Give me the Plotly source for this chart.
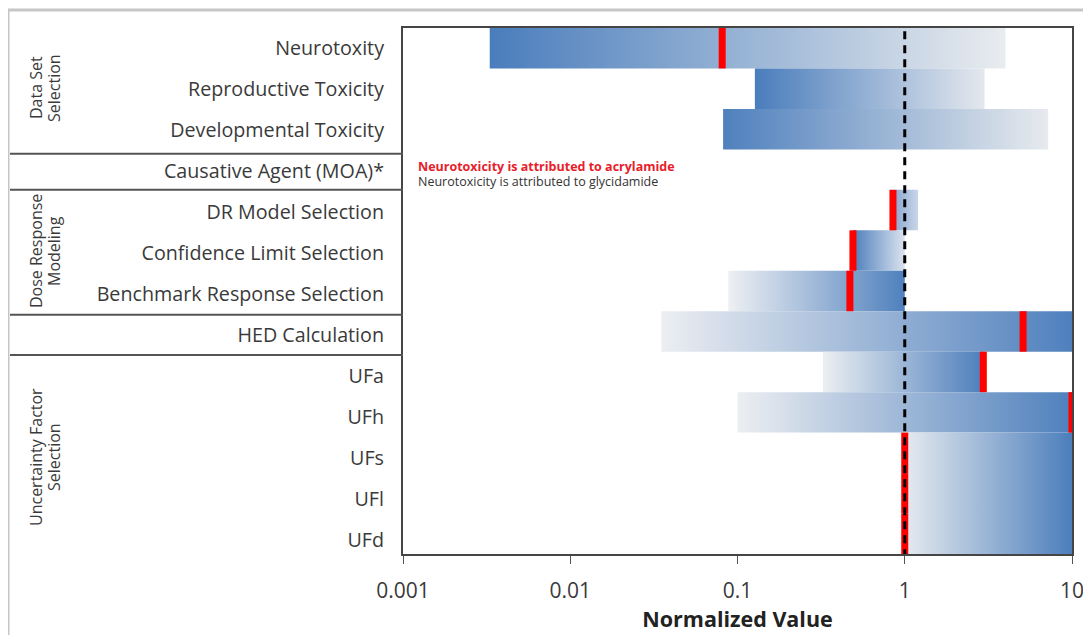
import plotly.graph_objects as go

# ---------------- data ----------------
categories = ["Neurotoxity", "Reproductive Toxicity", "Developmental Toxicity",
              "Causative Agent (MOA)*", "DR Model Selection", "Confidence Limit Selection",
              "Benchmark Response Selection", "HED Calculation", "UFa", "UFh", "UFs", "UFl", "UFd"]
range_low = [0.0033, 0.127, 0.082, None, 0.82, 0.49, 0.088, 0.035, 0.324, 0.1, 1.0, 1.0, 1.0]
range_high = [4.0, 3.0, 7.2, None, 1.2, 1.0, 1.0, 10.0, 2.95, 10.0, 10.0, 10.0, 10.0]
point_value = [0.081, None, None, None, 0.85, 0.49, 0.47, 5.1, 2.95, 10.0, 1.0, 1.0, 1.0]
reference_value = 1.0
x_tick_vals = [0.001, 0.01, 0.1, 1, 10]
x_tick_text = ["0.001", "0.01", "0.1", "1", "10"]
groups = ["Data Set<br>Selection", "Dose Response<br>Modeling", "Uncertainty Factor<br>Selection"]
note_acrylamide = "Neurotoxicity is attributed to acrylamide"
note_glycidamide = "Neurotoxicity is attributed to glycidamide"

# ---------------- styles ----------------
DARK = "#4a7dbc"
grad_colors = [
    (DARK, "#e9ecef"), (DARK, "#e4e8ee"), ("#4f80bd", "#e7eaee"), None,
    ("#819fcc", "#c9d6e8"), ("#4d7ebc", "#dbe3ee"), ("#eef0f3", "#4f80bd"),
    ("#eceef2", "#4f80bd"), ("#eceff2", "#4e7fbc"), ("#eceef1", "#4f80bd"),
    ("#e6eaef", "#4c7ebc"), ("#e6eaef", "#4c7ebc"), ("#e6eaef", "#4c7ebc"),
]
TXT = "#3a3a3a"
FONT = "Open Sans"
W, H = 669, 526  # plot area size in px

fig = go.Figure()

# gradient bars (consecutive rows with identical ranges are merged into one band)
n = len(categories)
i = 0
while i < n:
    lo, hi = range_low[i], range_high[i]
    if lo is None:
        i += 1
        continue
    j = i
    while j + 1 < n and range_low[j + 1] == lo and range_high[j + 1] == hi and grad_colors[j + 1] == grad_colors[i]:
        j += 1
    c0, c1 = grad_colors[i]
    fig.add_trace(go.Scatter(
        x=[lo, hi, hi, lo, lo],
        y=[i - 0.5, i - 0.5, j + 0.5, j + 0.5, i - 0.5],
        mode="lines", fill="toself", line=dict(width=0),
        fillgradient=dict(type="horizontal", colorscale=[[0, c0], [1, c1]]),
        hoverinfo="skip", showlegend=False,
    ))
    i = j + 1

# red point markers
rx, ry = [], []
for k, v in enumerate(point_value):
    if v is None:
        continue
    rx += [v, v, None]
    ry += [k - 0.5, k + 0.5, None]
fig.add_trace(go.Scatter(x=rx, y=ry, mode="lines", line=dict(color="#ff0000", width=7),
                         hoverinfo="skip", showlegend=False))

# reference dashed line at 1
fig.add_trace(go.Scatter(x=[reference_value, reference_value], y=[-0.42, n - 0.5],
                         mode="lines", line=dict(color="#000000", width=3, dash="8px,6px"),
                         hoverinfo="skip", showlegend=False))

# invisible trace carrying the label axis
fig.add_trace(go.Scatter(x=[1] * n, y=list(range(n)), yaxis="y2",
                         mode="markers", marker=dict(opacity=0), hoverinfo="skip", showlegend=False))

# group labels (each line separately, px centres relative to plot area)
group_centres = [88, 251, 457]
line_x = [-367, -349]
for g, cy in zip(groups, group_centres):
    for ln, lx in zip(g.split("<br>"), line_x):
        fig.add_annotation(text=ln, xref="paper", yref="paper", x=lx / W, y=1 - (cy - 28) / H,
                           textangle=-90, showarrow=False,
                           font=dict(family=FONT, size=16, color=TXT),
                           xanchor="center", yanchor="middle")

# notes
fig.add_annotation(text="<b>" + note_acrylamide + "</b>", xref="paper", yref="paper",
                   x=13 / W, y=1 - (166 - 28) / H, xanchor="left", yanchor="middle", showarrow=False,
                   font=dict(family=FONT, size=12.5, color="#e8202a"))
fig.add_annotation(text=note_glycidamide, xref="paper", yref="paper",
                   x=13 / W, y=1 - (181 - 28) / H, xanchor="left", yanchor="middle", showarrow=False,
                   font=dict(family=FONT, size=12.5, color="#333333"))

# separators in label column
for ys in [2.61, 3.5, 6.59, 7.58]:
    fig.add_shape(type="line", xref="paper", yref="y", x0=-393 / W, x1=0, y0=ys, y1=ys,
                  line=dict(color="#555555", width=2))

# outer frame (top + left)
fig.add_shape(type="line", xref="paper", yref="paper", x0=-396 / W, x1=1.05, y0=1 + 18 / H, y1=1 + 18 / H,
              line=dict(color="#c6c6c6", width=3))
fig.add_shape(type="line", xref="paper", yref="paper", x0=-395 / W, x1=-395 / W, y0=1 + 18 / H, y1=-0.2,
              line=dict(color="#c6c6c6", width=3))

fig.update_layout(
    width=1083, height=627,
    margin=dict(l=395, r=19, t=20, b=81, autoexpand=False),
    paper_bgcolor="white", plot_bgcolor="white",
    showlegend=False,
    xaxis=dict(type="log", range=[-3, 1], tickvals=x_tick_vals, ticktext=x_tick_text,
               automargin=False,
               showgrid=False, zeroline=False, showline=True, mirror=True,
               linecolor="#454545", linewidth=1.5, ticks="outside", ticklen=8, tickcolor="#555555",
               ticklabelstandoff=9,
               tickfont=dict(family=FONT, size=21, color=TXT),
               title=dict(text="<b>Normalized Value</b>", font=dict(family=FONT, size=21.5, color="#222222"),
                          standoff=5)),
    yaxis=dict(range=[n - 0.5, -0.5], showticklabels=False, showgrid=False,
               automargin=False,
               zeroline=False, showline=True, mirror=True, linecolor="#454545", linewidth=1.5,
               ticks=""),
    yaxis2=dict(overlaying="y", side="left", range=[12.341, -0.488], automargin=False,
                tickvals=list(range(n)), ticktext=categories,
                showgrid=False, zeroline=False, showline=False, ticks="",
                ticklabelstandoff=18,
                tickfont=dict(family=FONT, size=19.7, color=TXT)),
)

fig.write_html("out.html")
